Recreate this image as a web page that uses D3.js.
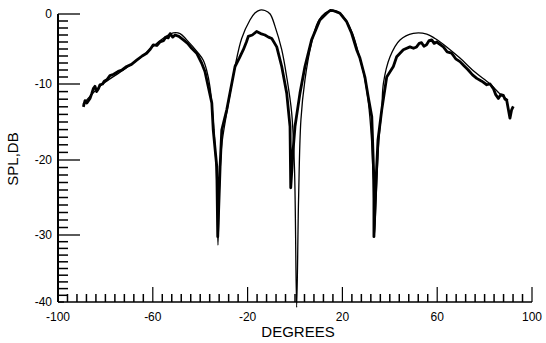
<!DOCTYPE html>
<html><head><meta charset="utf-8">
<script src="https://cdn.jsdelivr.net/npm/d3@7"></script>
<style>body{margin:0;background:#fff}svg{display:block}text{font-family:"Liberation Sans",Arial,sans-serif;fill:#000}</style>
</head><body><svg id="c" width="546" height="343"></svg>
<script>
// Measured (thick) curve: [degrees, dB]
const measuredDeg = [-89.3,-88.6,-87.8,-86.5,-85.8,-85.1,-84.4,-83.7,-82.9,-82.3,-81.2,-80.5,-79.4,-78.1,-76.5,-74.6,-73.0,-71.0,-69.0,-66.8,-64.5,-62.6,-61.0,-59.8,-58.3,-57.0,-55.5,-54.5,-53.5,-52.7,-51.6,-50.6,-49.0,-47.1,-45.3,-43.6,-41.5,-39.4,-38.0,-36.6,-35.1,-34.5,-33.0,-32.6,-31.6,-30.9,-28.8,-25.3,-23.5,-21.8,-20.5,-19.7,-18.0,-16.2,-14.5,-12.7,-11.2,-9.8,-7.7,-5.6,-3.5,-2.1,-1.8,-0.8,0.0,2.1,4.2,7.0,10.5,13.4,14.8,16.2,17.6,19.0,21.8,23.9,26.0,27.4,29.5,30.9,32.4,33.3,33.3,34.2,35.0,36.6,38.7,41.5,42.9,45.7,48.5,50.0,51.3,52.4,53.4,54.4,55.5,56.6,57.7,58.7,59.8,62.6,64.2,66.1,67.8,69.6,71.3,73.1,74.9,76.7,78.8,80.9,82.3,83.7,84.7,85.8,86.8,87.9,88.6,89.3,90.7,91.4,92.1];
const measuredDb = [-13.0,-12.2,-12.5,-11.9,-11.3,-10.6,-10.3,-11.0,-10.6,-10.1,-10.0,-9.6,-9.4,-8.8,-8.6,-8.2,-8.0,-7.5,-7.2,-6.6,-6.0,-5.6,-5.0,-4.4,-4.5,-4.0,-3.8,-3.3,-3.4,-2.8,-3.3,-3.0,-3.2,-3.7,-4.2,-4.9,-5.6,-7.0,-8.2,-10.35,-12.5,-16.05,-20.9,-30.25,-20.9,-16.05,-13.4,-7.5,-6.3,-5.1,-4.0,-3.2,-3.0,-2.5,-2.8,-3.0,-3.3,-3.5,-4.7,-7.5,-11.2,-15.6,-23.7,-18.7,-15.6,-11.2,-7.5,-3.7,-0.86,0.1,0.5,0.47,0.3,0.1,-1.1,-2.75,-5.1,-6.3,-9.0,-11.7,-14.3,-22.7,-30.25,-22.7,-17.4,-13.4,-9.0,-7.5,-6.1,-5.1,-4.7,-4.9,-4.7,-4.2,-4.1,-4.6,-4.4,-3.8,-3.7,-4.2,-4.0,-4.7,-5.4,-5.6,-6.4,-6.8,-7.4,-8.0,-8.7,-9.2,-9.6,-10.1,-10.0,-10.6,-11.4,-11.9,-11.4,-11.5,-12.0,-12.1,-14.5,-13.4,-12.96];
// Theoretical (thin) curve
const theoryDeg = [-89.5,-82.3,-73.8,-65.4,-59.1,-54.9,-51.4,-48.5,-45.7,-40.8,-38.7,-37.3,-35.9,-34.2,-32.9,-32.5,-31.9,-31.0,-30.3,-27.4,-25.3,-22.5,-19.0,-16.9,-14.8,-12.7,-10.5,-8.4,-5.6,-3.5,-1.4,-0.2,0.7,1.5,2.5,4.2,6.8,9.7,12.7,15.6,18.6,21.5,24.5,27.0,29.1,30.8,32.3,33.2,33.5,34.2,35.4,36.6,37.3,40.1,44.3,49.9,55.6,59.1,64.0,69.6,75.9,82.3,86.5,89.9];
const theoryDb = [-12.7,-10.3,-8.3,-6.3,-4.4,-3.3,-2.7,-2.8,-3.7,-5.6,-6.6,-8.0,-10.35,-16.05,-24,-31.5,-24,-18.3,-16.6,-11.3,-7.5,-3.5,-0.86,0.14,0.57,0.5,0.0,-1.8,-5.1,-9.0,-13.8,-21.3,-41,-25.3,-14.7,-9.4,-4.4,-1.1,0.14,0.5,0.2,-0.86,-3.0,-5.9,-8.7,-12.0,-17.4,-25.3,-30.1,-25.3,-17.4,-13.4,-9.9,-6.1,-3.7,-2.76,-2.86,-3.5,-4.7,-6.3,-8.3,-10.0,-11.3,-12.1];
const xTickLabels = [-100,-60,-20,20,60,100];
const yTickLabels = [0,-10,-20,-30,-40];

const svg = d3.select("#c");
const x = d3.scaleLinear().domain([-100,100]).range([58,532]);
const y = d3.scaleLinear().domain([-40,-30,-20,-10,0]).range([302,235,160,84,14]);

const g = svg.append("g").attr("stroke","#000").attr("fill","none");
g.append("line").attr("x1",x(-100)).attr("x2",x(-100)).attr("y1",y(0)).attr("y2",y(-40)).attr("stroke-width",2);
g.append("line").attr("x1",x(-100)).attr("x2",x(100)).attr("y1",y(-40)).attr("y2",y(-40)).attr("stroke-width",1.6);
d3.range(-40,1,1).forEach(v=>{
  const major = v%10===0;
  g.append("line").attr("x1",x(-100)).attr("x2",x(-100)+(major?(v===-40?6:22):10))
   .attr("y1",y(v)).attr("y2",y(v)).attr("stroke-width",major?1.3:1.5);
});
d3.range(-100,101,4).forEach(v=>{
  const major = xTickLabels.includes(v);
  g.append("line").attr("x1",x(v)).attr("x2",x(v)).attr("y1",y(-40)).attr("y2",y(-40)-(major?15:8))
   .attr("stroke-width",major?1.2:1.5);
});
svg.selectAll(".yl").data(yTickLabels).enter().append("text")
  .attr("x",52).attr("y",d=>y(d)+4).attr("text-anchor","end").attr("font-size",12).text(d=>d);
svg.selectAll(".xl").data(xTickLabels).enter().append("text")
  .attr("x",d=>x(d)).attr("y",321).attr("text-anchor","middle").attr("font-size",12).text(d=>d);
svg.append("text").attr("x",298).attr("y",337).attr("text-anchor","middle").attr("font-size",15).text("DEGREES");
svg.append("text").attr("transform","translate(18,159) rotate(-90)").attr("text-anchor","middle").attr("font-size",15).text("SPL,DB");

const line = d3.line().x(d=>x(d[0])).y(d=>y(d[1]));
const thin = d3.line().x(d=>x(d[0])).y(d=>y(Math.max(d[1],-40.8))).curve(d3.curveCatmullRom.alpha(0.5));
svg.append("path").attr("d",thin(d3.zip(theoryDeg,theoryDb))).attr("fill","none").attr("stroke","#000").attr("stroke-width",1.3);
svg.append("path").attr("d",line(d3.zip(measuredDeg,measuredDb))).attr("fill","none").attr("stroke","#000").attr("stroke-width",2.8).attr("stroke-linejoin","round");
</script></body></html>
